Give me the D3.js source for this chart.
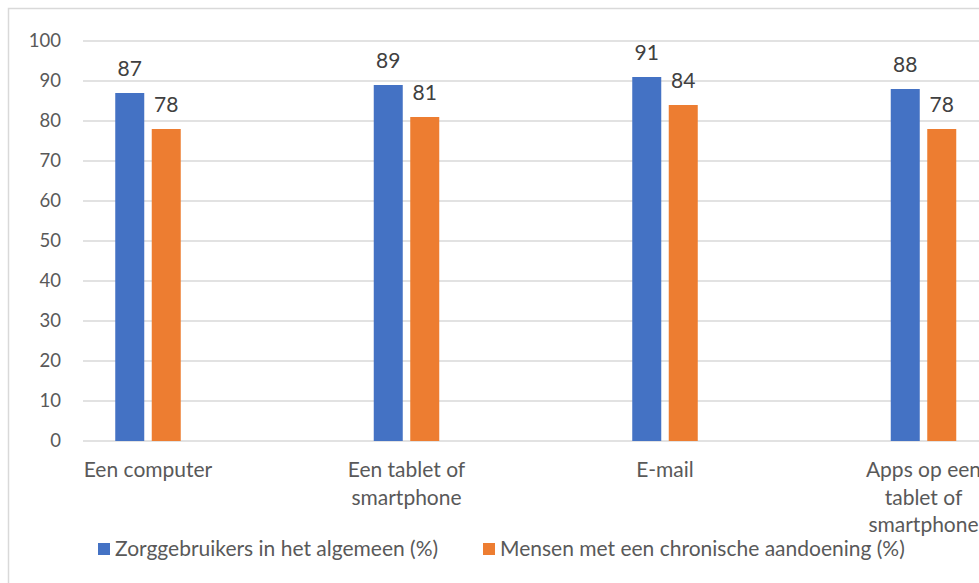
<!DOCTYPE html>
<html><head><meta charset="utf-8">
<script src="https://cdn.jsdelivr.net/npm/d3@7"></script>
<style>body{margin:0;background:#fff}svg{display:block;font-family:Lato,"Open Sans",sans-serif}</style>
</head><body><div id="chart"></div>
<script>
const categories = ["Een computer", "Een tablet of\nsmartphone", "E-mail", "Apps op een\ntablet of\nsmartphone"];
const seriesNames = ["Zorggebruikers in het algemeen (%)", "Mensen met een chronische aandoening (%)"];
const generalValues = [87, 89, 91, 88];
const chronicValues = [78, 81, 84, 78];
const yTicks = [0, 10, 20, 30, 40, 50, 60, 70, 80, 90, 100];
const colors = ["#4472c4", "#ed7d31"];

const W = 979, H = 583;
const svg = d3.select("#chart").append("svg").attr("width", W).attr("height", H);

svg.append("rect").attr("x", 8.5).attr("y", 8.5).attr("width", W + 20).attr("height", H + 20)
  .attr("fill", "#fff").attr("stroke", "#d9d9d9").attr("stroke-width", 1.5);

const plotLeft = 83;
const y = d3.scaleLinear().domain([0, 100]).range([441, 41]);
const x = d3.scaleBand().domain(categories).range([18.75, 18.75 + 258.5 * 4]).paddingInner(0).paddingOuter(0);
const series = [generalValues, chronicValues];
const barW = 29, barGap = 7.5;

// gridlines
svg.append("g").selectAll("line").data(yTicks).join("line")
  .attr("x1", plotLeft).attr("x2", W).attr("y1", d => y(d)).attr("y2", d => y(d))
  .attr("stroke", "#d9d9d9").attr("stroke-width", 1.5);

// y axis labels
const yAxis = d3.axisLeft(y).tickValues(yTicks).tickSize(0).tickPadding(0);
const yg = svg.append("g").attr("transform", "translate(61,0)").call(yAxis);
yg.select(".domain").remove();
yg.selectAll("text").attr("fill", "#595959").style("font-size", "18.5px").style("font-family", "Lato,'Open Sans',sans-serif");

// bars
series.forEach((vals, si) => {
  const off = si === 0 ? -(barW + barGap / 2) : barGap / 2;
  const g = svg.append("g");
  g.selectAll("rect").data(vals).join("rect")
    .attr("x", (d, i) => x(categories[i]) + x.bandwidth() / 2 + off)
    .attr("width", barW)
    .attr("y", d => y(d)).attr("height", d => y(0) - y(d))
    .attr("fill", colors[si]);
  g.selectAll("text").data(vals).join("text")
    .attr("x", (d, i) => x(categories[i]) + x.bandwidth() / 2 + off + barW / 2)
    .attr("y", d => y(d) - 17)
    .attr("text-anchor", "middle").attr("fill", "#404040").style("font-size", "21px")
    .text(d => d);
});

// category labels
const cg = svg.append("g");
categories.forEach(c => {
  const t = cg.append("text").attr("x", x(c) + x.bandwidth() / 2).attr("y", 477)
    .attr("text-anchor", "middle").attr("fill", "#595959").style("font-size", "21px");
  c.split("\n").forEach((line, i) => {
    t.append("tspan").attr("x", x(c) + x.bandwidth() / 2).attr("dy", i === 0 ? 0 : 27.5).text(line);
  });
});

// legend
const legendX = [98, 483];
seriesNames.forEach((n, i) => {
  svg.append("rect").attr("x", legendX[i]).attr("y", 543).attr("width", 12).attr("height", 12).attr("fill", colors[i]);
  svg.append("text").attr("x", legendX[i] + 17).attr("y", 556).attr("fill", "#595959")
    .style("font-size", "21px").text(n);
});
</script></body></html>
